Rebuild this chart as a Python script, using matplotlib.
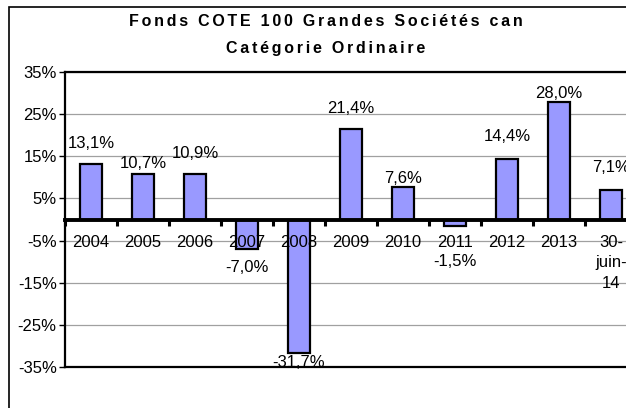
import numpy as np
import matplotlib.pyplot as plt
from matplotlib.patches import Rectangle

plt.rcParams['font.family'] = ['Liberation Sans', 'DejaVu Sans']

annees = ['2004', '2005', '2006', '2007', '2008', '2009', '2010', '2011', '2012', '2013', '30-\njuin-\n14']
rendements = [13.1, 10.7, 10.9, -7.0, -31.7, 21.4, 7.6, -1.5, 14.4, 28.0, 7.1]
graduations = [-35, -25, -15, -5, 5, 15, 25, 35]

# decalage des etiquettes (en pixels) par rapport au bout de chaque barre
decalage = [21, 11, 20, 18, 9, 21, 9, 36, 22, 8, 22]

fig = plt.figure(figsize=(6.26, 4.08), dpi=100)
fig.patch.set_facecolor('white')

# cadre exterieur (coupe a droite et en bas)
fig.patches.append(Rectangle((9 / 626, -0.2), 1.2, 0.2 + (408 - 7) / 408,
                             transform=fig.transFigure, fill=False, lw=1.2, ec='black'))

ax = fig.add_axes([65 / 626, (408 - 367) / 408, 572 / 626, 295 / 408])
x = np.arange(len(annees))
ax.bar(x, rendements, width=0.42, color='#9999ff', edgecolor='black', linewidth=1.6, zorder=3)

ax.set_xlim(-0.5, len(annees) - 0.5)
ax.set_ylim(-35, 35)
ax.set_yticks(graduations)
ax.set_yticklabels([f'{v}%' for v in graduations], fontsize=12)
ax.yaxis.grid(True, color='#a0a0a0', lw=0.9, zorder=0)
ax.tick_params(axis='y', length=4, width=1, pad=2)

for s in ['left', 'top']:
    ax.spines[s].set_linewidth(1.6)
ax.spines['right'].set_visible(False)
ax.spines['bottom'].set_position(('data', 0))
ax.spines['bottom'].set_linewidth(2.8)
ax.spines['bottom'].set_zorder(4)
ax.axhline(-35, color='black', lw=1.6, clip_on=False, zorder=4)

ax.set_xticks(x)
ax.set_xticklabels(annees, fontsize=12, linespacing=1.45)
ax.tick_params(axis='x', which='major', length=0, pad=11)
ax.set_xticks(np.arange(len(annees) + 1) - 0.5, minor=True)
ax.tick_params(axis='x', which='minor', length=4, width=2.2, direction='out')
ax.xaxis.set_zorder(5)

for xi, v, d in zip(x, rendements, decalage):
    txt = f'{v:.1f}%'.replace('.', ',')
    sens = 1 if v >= 0 else -1
    ax.annotate(txt, (xi, v), xytext=(0, sens * d * 0.72), textcoords='offset points',
                ha='center', va='center', fontsize=12, zorder=6)

esp = '\u200a\u200a'
ligne1 = esp.join('Fonds COTE 100 Grandes Sociétés can')
ligne2 = esp.join('Catégorie Ordinaire')
fig.text(326 / 626, 1 - 22 / 408, ligne1, ha='center', va='center', fontsize=11.5, fontweight='bold')
fig.text(326 / 626, 1 - 48 / 408, ligne2, ha='center', va='center', fontsize=11.5, fontweight='bold')

fig.savefig('out.png', dpi=100)
